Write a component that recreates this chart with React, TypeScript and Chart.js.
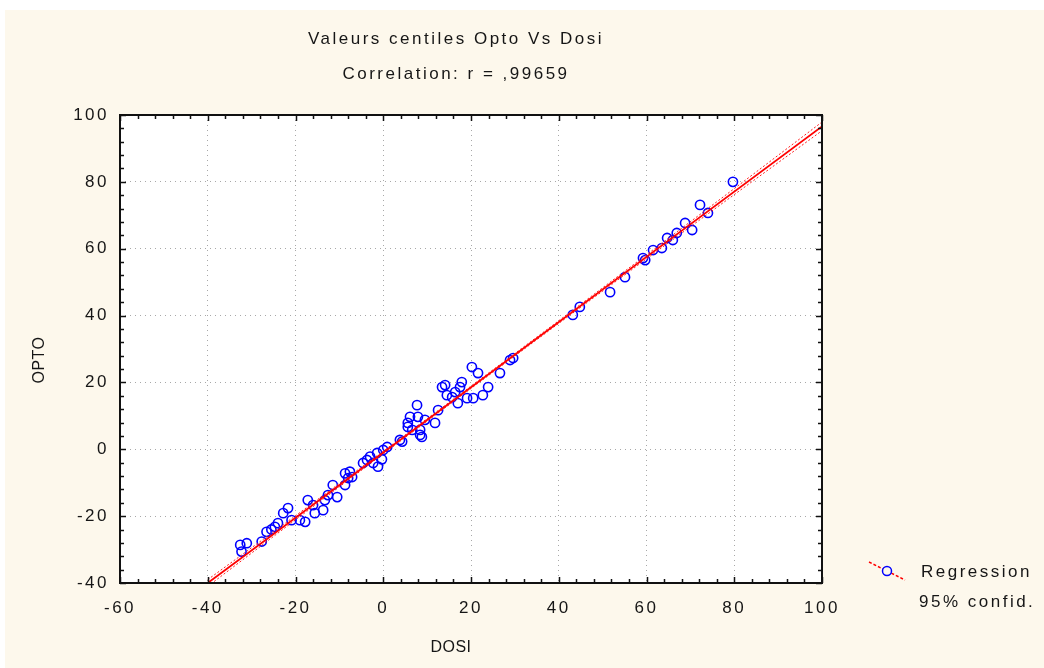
import { useEffect, useRef } from "react";
import { Chart, registerables } from "chart.js";

Chart.register(...registerables);

// Centile pairs (DOSI, OPTO)
const dosiCentiles = [
  -32.6, -32.3, -31.1, -27.7, -26.6, -25.5, -24.7, -24.0, -22.8, -21.7,
  -20.9, -19.0, -17.8, -17.2, -16.0, -15.6, -13.7, -13.3, -12.6, -11.5,
  -10.5, -8.7, -7.1, -8.7, -7.6, -8.0, -4.6, -3.7, -3.0, -2.3,
  -1.4, -1.2, -0.3, 0.0, 0.9, 3.8, 4.3, 5.6, 6.1, 7.7,
  7.9, 8.4, 8.8, 8.4, 9.5, 11.8, 12.5, 13.4, 14.1, 14.5,
  15.7, 16.4, 17.0, 17.5, 17.9, 19.1, 20.2, 20.5, 21.6, 22.7,
  23.9, 26.6, 28.9, 29.6, 6.6, 5.6, 43.2, 44.8, 51.7, 55.1,
  59.2, 59.7, 61.5, 63.5, 64.7, 66.0, 66.9, 68.8, 70.4, 72.2,
  74.0, 79.7,
];
const optoCentiles = [
  -28.6, -30.6, -28.1, -27.6, -24.7, -24.0, -23.2, -22.1, -19.1, -17.6,
  -21.2, -21.2, -21.7, -15.2, -16.7, -19.1, -18.2, -15.2, -13.7, -10.7,
  -14.3, -10.7, -8.3, -7.2, -6.7, -8.6, -4.1, -3.2, -2.2, -4.1,
  -1.1, -5.2, -3.0, -0.2, 0.7, 2.8, 2.3, 6.7, 9.7, 13.2,
  9.7, 5.8, 3.7, 4.3, 8.8, 7.9, 11.7, 18.6, 19.2, 16.2,
  15.6, 17.1, 13.8, 18.6, 20.1, 15.3, 24.6, 15.3, 22.8, 16.2,
  18.6, 22.8, 26.7, 27.3, 5.8, 7.9, 40.2, 42.6, 47.0, 51.5,
  57.2, 56.6, 59.6, 60.2, 63.2, 62.6, 64.7, 67.7, 65.6, 73.1,
  70.7, 80.0,
];

// Fitted regression line end points
const regressionX = [-40, 100];
const regressionY = [-40, 96.6];

// 95% confidence band: half-width along the fitted line
const bandX = [-40, -20, 0, 20, 40, 60, 80, 100];
const bandHalfWidth = [1.0, 0.6, 0.4, 0.35, 0.4, 0.6, 0.9, 1.3];

const xTickValues = [-60, -40, -20, 0, 20, 40, 60, 80, 100];
const yTickValues = [-40, -20, 0, 20, 40, 60, 80, 100];

const titleLines = ["Valeurs centiles Opto Vs Dosi", "Correlation: r = ,99659"];
const xAxisTitle = "DOSI";
const yAxisTitle = "OPTO";
const legendLines = ["Regression", "95% confid."];

const CREAM = "#fdf8ec";
const INK = "#161616";
const FAMILY = '"Liberation Sans", Arial, sans-serif';
const FONT = `17px ${FAMILY}`;
const SPACING = "2.5px";

function lineAt(x: number): number {
  const [x0, x1] = regressionX;
  const [y0, y1] = regressionY;
  return y0 + ((y1 - y0) * (x - x0)) / (x1 - x0);
}

const framePlugin = {
  id: "frame",
  beforeDraw(chart: any) {
    const { ctx, width, height, chartArea: a } = chart;
    ctx.save();
    ctx.fillStyle = "#ffffff";
    ctx.fillRect(0, 0, width, height);
    ctx.fillStyle = CREAM;
    ctx.fillRect(5, 10, width - 5, height - 10);
    ctx.fillStyle = "#ffffff";
    ctx.fillRect(a.left, a.top, a.right - a.left, a.bottom - a.top);
    ctx.restore();
    // wide glyph spacing for the tick labels
    ctx.letterSpacing = SPACING;
  },
  afterDraw(chart: any) {
    const { ctx, chartArea: a } = chart;
    const xs = chart.scales.x;
    const ys = chart.scales.y;
    ctx.save();

    // plot frame
    ctx.strokeStyle = "#111";
    ctx.lineWidth = 2;
    ctx.strokeRect(a.left, a.top, a.right - a.left, a.bottom - a.top);

    // inward ticks on all four sides
    ctx.lineWidth = 1.5;
    ctx.beginPath();
    for (let v = xs.min; v <= xs.max; v += 4) {
      const px = Math.round(xs.getPixelForValue(v)) + 0.5;
      const len = v % 20 === 0 ? 6 : 4;
      ctx.moveTo(px, a.bottom);
      ctx.lineTo(px, a.bottom - len);
      ctx.moveTo(px, a.top);
      ctx.lineTo(px, a.top + len);
    }
    for (let v = ys.min; v <= ys.max; v += 4) {
      const py = Math.round(ys.getPixelForValue(v)) + 0.5;
      const len = v % 20 === 0 ? 6 : 4;
      ctx.moveTo(a.left, py);
      ctx.lineTo(a.left + len, py);
      ctx.moveTo(a.right, py);
      ctx.lineTo(a.right - len, py);
    }
    ctx.stroke();

    // titles
    ctx.fillStyle = INK;
    ctx.font = FONT;
    ctx.letterSpacing = SPACING;
    ctx.textAlign = "center";
    ctx.textBaseline = "middle";
    ctx.fillText(titleLines[0], 456, 39);
    ctx.fillText(titleLines[1], 456, 74);

    // axis titles
    ctx.font = `16px ${FAMILY}`;
    ctx.letterSpacing = "0.5px";
    ctx.fillText(xAxisTitle, 451, 648);
    ctx.save();
    ctx.translate(40, 360);
    ctx.rotate(-Math.PI / 2);
    ctx.fillText(yAxisTitle, 0, 0);
    ctx.restore();

    // legend
    ctx.strokeStyle = "#ff0000";
    ctx.lineWidth = 1.5;
    ctx.setLineDash([3, 2]);
    ctx.beginPath();
    ctx.moveTo(869, 562);
    ctx.lineTo(905, 580);
    ctx.stroke();
    ctx.setLineDash([]);
    ctx.fillStyle = CREAM;
    ctx.strokeStyle = "#0000ff";
    ctx.beginPath();
    ctx.arc(887, 571, 4.5, 0, Math.PI * 2);
    ctx.fill();
    ctx.stroke();
    ctx.fillStyle = INK;
    ctx.font = FONT;
    ctx.letterSpacing = SPACING;
    ctx.textAlign = "left";
    ctx.fillText(legendLines[0], 921, 572);
    ctx.fillText(legendLines[1], 919, 602);

    ctx.restore();
  },
};

export default function App() {
  const canvasRef = useRef<HTMLCanvasElement | null>(null);

  useEffect(() => {
    document.body.style.margin = "0";
    const canvas = canvasRef.current;
    if (!canvas) return;

    const points = dosiCentiles.map((x, i) => ({ x, y: optoCentiles[i] }));
    const regression = regressionX.map((x, i) => ({ x, y: regressionY[i] }));
    const upper = bandX.map((x, i) => ({ x, y: lineAt(x) + bandHalfWidth[i] }));
    const lower = bandX.map((x, i) => ({ x, y: lineAt(x) - bandHalfWidth[i] }));

    const chart = new Chart(canvas, {
      type: "scatter",
      data: {
        datasets: [
          {
            label: "Regression",
            data: regression,
            showLine: true,
            borderColor: "#ff0000",
            borderWidth: 1.8,
            pointRadius: 0,
            order: 0,
          },
          {
            label: "95% confid. (upper)",
            data: upper,
            showLine: true,
            borderColor: "#ff2020",
            borderWidth: 1,
            borderDash: [2, 2],
            pointRadius: 0,
            order: 0,
          },
          {
            label: "95% confid. (lower)",
            data: lower,
            showLine: true,
            borderColor: "#ff2020",
            borderWidth: 1,
            borderDash: [2, 2],
            pointRadius: 0,
            order: 0,
          },
          {
            label: "Centiles",
            data: points,
            pointStyle: "circle",
            pointRadius: 4.6,
            pointBorderWidth: 1.6,
            pointBorderColor: "#0000ff",
            pointBackgroundColor: "rgba(0,0,0,0)",
            order: 1,
          },
        ],
      },
      options: {
        animation: false,
        responsive: false,
        maintainAspectRatio: false,
        layout: { padding: { top: 115, right: 222, left: 0, bottom: 0 } },
        plugins: {
          legend: { display: false },
          title: { display: false },
          tooltip: { enabled: false },
        },
        scales: {
          x: {
            type: "linear",
            min: -60,
            max: 100,
            afterBuildTicks: (s: any) => {
              s.ticks = xTickValues.map((value) => ({ value }));
            },
            afterFit: (s: any) => {
              s.height = 85;
            },
            ticks: {
              font: { family: FAMILY, size: 17 },
              color: INK,
              padding: 15,
              maxRotation: 0,
            },
            grid: { color: "#a8a8a8", lineWidth: 1, drawTicks: false },
            border: { display: false, dash: [1, 4] },
          },
          y: {
            type: "linear",
            min: -40,
            max: 100,
            afterBuildTicks: (s: any) => {
              s.ticks = yTickValues.map((value) => ({ value }));
            },
            afterFit: (s: any) => {
              s.width = 120;
            },
            ticks: {
              font: { family: FAMILY, size: 17 },
              color: INK,
              padding: 11,
            },
            grid: { color: "#a8a8a8", lineWidth: 1, drawTicks: false },
            border: { display: false, dash: [1, 4] },
          },
        },
      },
      plugins: [framePlugin],
    });

    return () => chart.destroy();
  }, []);

  return (
    <div style={{ width: 1044, height: 668 }}>
      <canvas ref={canvasRef} width={1044} height={668} style={{ display: "block" }} />
    </div>
  );
}
